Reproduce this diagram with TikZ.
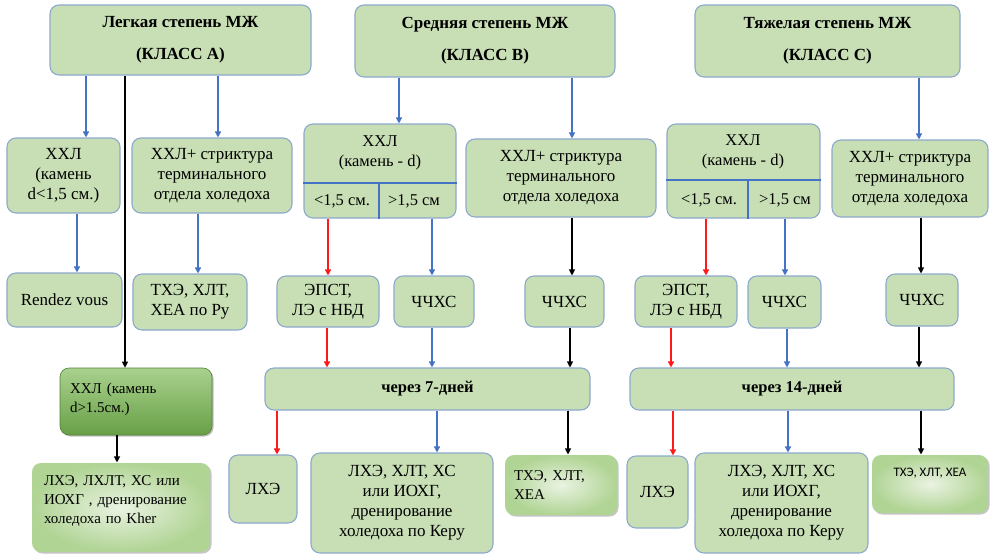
\documentclass[tikz,border=0pt]{standalone}
\usepackage{fontspec}
\setmainfont{Liberation Serif}
\newfontfamily\carl{Carlito}
\usetikzlibrary{arrows.meta,shadows,calc}
\definecolor{boxfill}{HTML}{C8DFB5}
\definecolor{boxline}{HTML}{8DA9CC}
\definecolor{ablue}{HTML}{4472C4}
\definecolor{ared}{HTML}{FF1A1A}
\definecolor{dkTop}{HTML}{A9D18E}
\definecolor{dkBot}{HTML}{68A046}
\definecolor{ltIn}{HTML}{EAF3E2}
\definecolor{ltOut}{HTML}{B0D494}
\tikzset{
  box/.style={draw=boxline, fill=boxfill, line width=1.1pt, rounded corners=9pt,
    inner sep=2pt, align=center, font=\fontsize{17}{20}\selectfont},
  headbox/.style={font=\bfseries\fontsize{17}{32}\selectfont},
  darkbox/.style={draw=dkBot!80!black, line width=0.6pt, fill=none, top color=dkTop, bottom color=dkBot,
    drop shadow={shadow xshift=1.5pt, shadow yshift=-1.5pt, opacity=0.5},
    font=\fontsize{15}{19}\selectfont},
  lightbox/.style={draw=none, fill=none, inner color=ltIn, outer color=ltOut,
    drop shadow={shadow xshift=1.5pt, shadow yshift=-1.5pt, opacity=0.45},
    font=\fontsize{15}{19}\selectfont},
  plain/.style={inner sep=0pt, align=center, font=\fontsize{16.5}{20}\selectfont},
  arr/.style={line width=1.4pt, -{Triangle[length=6pt,width=6pt]}},
  barr/.style={arr, draw=ablue},
  rarr/.style={arr, draw=ared},
  karr/.style={arr, draw=black, line width=1.1pt},
  divline/.style={draw=ablue, line width=1.5pt}
}
% [opts]{name}{x1}{y1}{x2}{y2}{text}
\newcommand\bx[7][]{\node[box,minimum width={(#5-#3)*1pt},minimum height={(#6-#4)*1pt},#1] (#2) at ({(#3+#5)/2},{(#4+#6)/2}) {#7};}
\begin{document}
\begin{tikzpicture}[x=1pt,y=-1pt]
\useasboundingbox[fill=white] (0,0) rectangle (990,555);
% top row
\bx[headbox]{A}{50}{5}{311}{75}{Легкая степень МЖ\\(КЛАСС А)}
\bx[headbox]{B}{355}{5}{615}{77}{Средняя степень МЖ\\(КЛАСС В)}
\bx[headbox]{C}{695}{5}{960}{77}{Тяжелая степень МЖ\\(КЛАСС С)}
% second row
\bx{Al}{7}{138}{120}{213}{ХХЛ\\(камень\\d<1,5 см.)}
\bx{Ar}{132}{138}{292}{213}{ХХЛ+ стриктура\\терминального\\отдела холедоха}
\bx{Bs}{304}{124}{456}{218}{}
\node[plain] (Bst) at (380,153) {ХХЛ\\(камень - d)};
\node[plain] (Bsl) at (342,201) {<1,5 см.};
\node[plain] (Bsr) at (414,201) {>1,5 см};
\draw[divline] (Bs.west |- 0,183) -- (Bs.east |- 0,183);
\draw[divline] (379,183) -- (Bs.south -| 379,0);
\bx{Br}{466}{139}{656}{217}{ХХЛ+ стриктура\\терминального\\отдела холедоха}
\bx{Cs}{667}{124}{820}{218}{}
\node[plain] (Cst) at (743,152) {ХХЛ\\(камень - d)};
\node[plain] (Csl) at (709,200) {<1,5 см.};
\node[plain] (Csr) at (785,200) {>1,5 см};
\draw[divline] (Cs.west |- 0,180) -- (Cs.east |- 0,180);
\draw[divline] (748,180) -- (Cs.south -| 748,0);
\bx{Cr}{832}{140}{988}{217}{ХХЛ+ стриктура\\терминального\\отдела холедоха}
% third row
\bx{RV}{7}{273}{122}{327}{Rendez vous}
\bx{TA}{133}{274}{247}{330}{ТХЭ, ХЛТ,\\ХЕА по Ру}
\bx{EB}{277}{276}{379}{327}{ЭПСТ,\\ЛЭ с НБД}
\bx{CB1}{394}{276}{474}{327}{ЧЧХС}
\bx{CB2}{525}{276}{604}{327}{ЧЧХС}
\bx{EC}{635}{276}{737}{327}{ЭПСТ,\\ЛЭ с НБД}
\bx{CC1}{748}{276}{821}{328}{ЧЧХС}
\bx{CC2}{886}{274}{958}{326}{ЧЧХС}
% fourth row
\bx[darkbox,align=left,text width=132pt]{DK}{60}{368}{212}{435}{ХХЛ (камень\\d>1.5см.)\\[-12pt]\mbox{}}
\bx[font=\bfseries\fontsize{16.5}{20}\selectfont]{W7}{265}{368}{590}{410}{через 7-дней}
\bx[font=\bfseries\fontsize{16.5}{20}\selectfont]{W14}{630}{368}{954}{410}{через 14-дней}
% bottom row
\bx[lightbox,align=left,text width=154pt]{LA}{32}{463}{210}{552}{ЛХЭ, ЛХЛТ, ХС или\\ИОХГ , дренирование\\холедоха по Kher\\[-3pt]\mbox{}}
\bx{LB1}{229}{455}{297}{523}{ЛХЭ}
\bx{LB2}{311}{453}{493}{553}{ЛХЭ, ХЛТ, ХС\\или ИОХГ,\\дренирование\\холедоха по Керу}
\bx[lightbox,align=left,text width=94pt]{LB3}{505}{455}{617}{515}{ТХЭ, ХЛТ,\\ХЕА}
\bx{LC1}{627}{456}{688}{528}{ЛХЭ}
\bx{LC2}{695}{453}{868}{553}{ЛХЭ, ХЛТ, ХС\\или ИОХГ,\\дренирование\\холедоха по Керу}
\bx[lightbox,font=\carl\fontsize{13}{16}\selectfont,text depth=24pt]{LC3}{872}{455}{988}{513}{ТХЭ, ХЛТ, ХЕА}
% arrows
\draw[barr] (A.south -| 86,0) -- (Al.north -| 86,0);
\draw[barr] (A.south -| 218,0) -- (Ar.north -| 218,0);
\draw[karr] (A.south -| 125,0) -- (DK.north -| 125,0);
\draw[barr] (Al.south -| 77,0) -- (RV.north -| 77,0);
\draw[barr] (Ar.south -| 198,0) -- (TA.north -| 198,0);
\draw[barr] (B.south -| 399,0) -- (Bs.north -| 399,0);
\draw[barr] (B.south -| 572,0) -- (Br.north -| 572,0);
\draw[barr] (C.south -| 919,0) -- (Cr.north -| 919,0);
\draw[rarr] (Bs.south -| 328,0) -- (EB.north -| 328,0);
\draw[barr] (Bs.south -| 432,0) -- (CB1.north -| 432,0);
\draw[karr] (Br.south -| 572,0) -- (CB2.north -| 572,0);
\draw[rarr] (Cs.south -| 706,0) -- (EC.north -| 706,0);
\draw[barr] (Cs.south -| 785,0) -- (CC1.north -| 785,0);
\draw[karr] (Cr.south -| 921,0) -- (CC2.north -| 921,0);
\draw[rarr] (EB.south -| 327,0) -- (W7.north -| 327,0);
\draw[barr] (CB1.south -| 432,0) -- (W7.north -| 432,0);
\draw[karr] (CB2.south -| 570,0) -- (W7.north -| 570,0);
\draw[rarr] (EC.south -| 671,0) -- (W14.north -| 671,0);
\draw[barr] (CC1.south -| 787,0) -- (W14.north -| 787,0);
\draw[karr] (CC2.south -| 919,0) -- (W14.north -| 919,0);
\draw[rarr] (W7.south -| 277,0) -- (LB1.north -| 277,0);
\draw[barr] (W7.south -| 437,0) -- (LB2.north -| 437,0);
\draw[karr] (W7.south -| 568,0) -- (LB3.north -| 568,0);
\draw[rarr] (W14.south -| 673,0) -- (LC1.north -| 673,0);
\draw[barr] (W14.south -| 788,0) -- (LC2.north -| 788,0);
\draw[karr] (W14.south -| 921,0) -- (LC3.north -| 921,0);
\draw[karr] (DK.south -| 117,0) -- (LA.north -| 117,0);
\end{tikzpicture}
\end{document}
